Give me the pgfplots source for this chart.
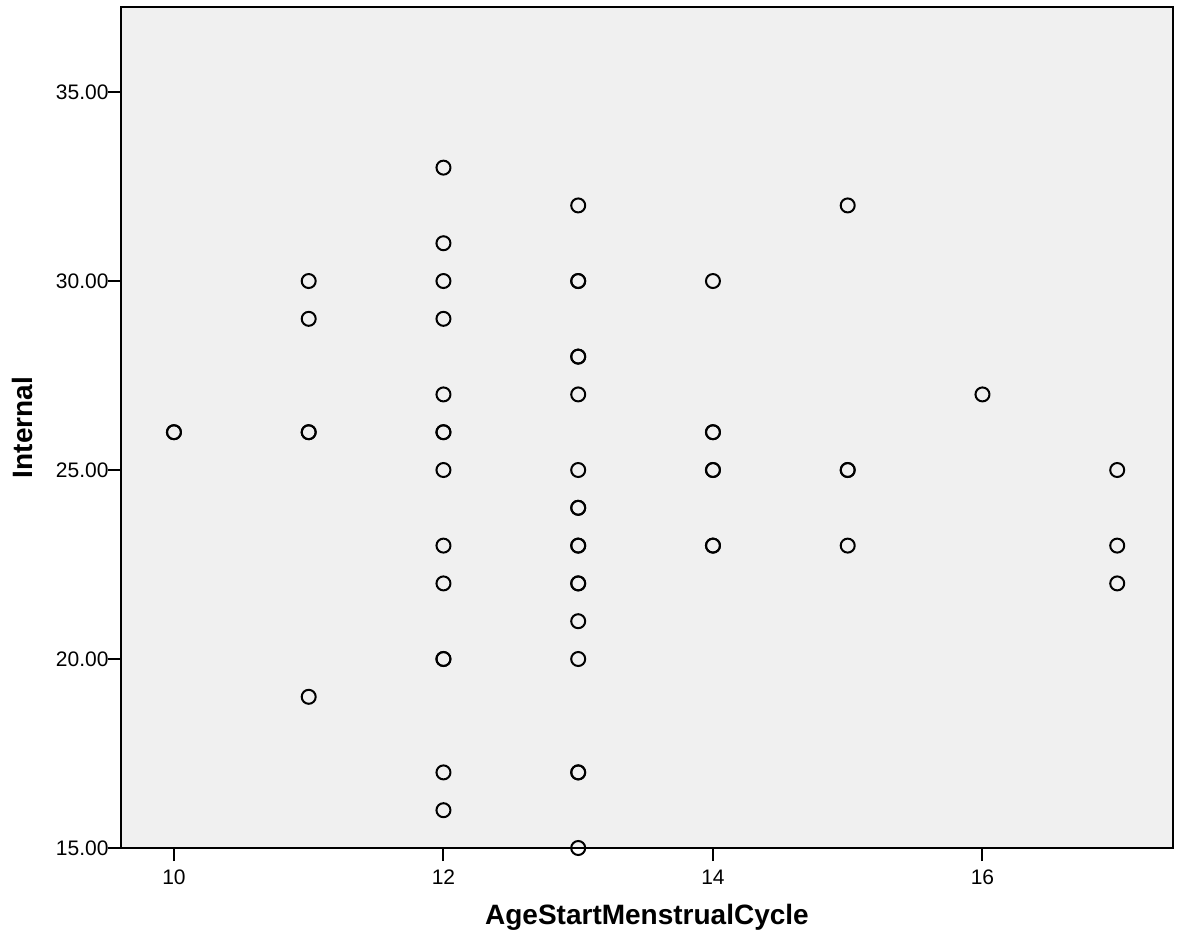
\documentclass[border=0pt]{standalone}
\usepackage{pgfplots}
\pgfplotsset{compat=1.18}
\usepackage{fontspec}
\setmainfont{Liberation Sans}
\definecolor{bg}{HTML}{F0F0F0}
\begin{document}
\begin{tikzpicture}[x=0.5pt,y=0.5pt]
\path[use as bounding box] (-121,-94) rectangle (1062,848);
\begin{axis}[
  at={(0,0)}, anchor=south west,
  scale only axis,
  width=526pt, height=420.5pt,
  xmin=9.607, xmax=17.414,
  ymin=15, ymax=37.25,
  axis background/.style={fill=bg},
  axis line style={black, line width=0.6pt},
  xtick={10,12,14,16},
  ytick={15,20,25,30,35},
  xtick pos=left, ytick pos=left,
  tick align=outside,
  major tick length=6.5pt,
  tick style={black, line width=1pt},
  yticklabel style={/pgf/number format/fixed, /pgf/number format/fixed zerofill, /pgf/number format/precision=2},
  /pgf/number format/assume math mode=true,
  ticklabel style={font=\fontsize{10.5pt}{12pt}\selectfont},
  xticklabel style={yshift=-1pt},
  yticklabel style={xshift=3.8pt},
  xlabel={\textbf{AgeStartMenstrualCycle}},
  ylabel={\textbf{Internal}},
  label style={font=\fontsize{14pt}{16pt}\selectfont},
  xlabel style={at={(axis description cs:0.5,-0.083)}, anchor=center},
  ylabel style={at={(axis description cs:-0.0941,0.5)}, anchor=center},
  clip=false,
]
\addplot[only marks, mark=o, mark size=3.5pt, mark options={line width=1pt, black}] coordinates {
(10,26) (10,26)
(11,30) (11,29) (11,26) (11,26) (11,19)
(12,33) (12,31) (12,30) (12,29) (12,27) (12,26) (12,26) (12,25) (12,23) (12,22) (12,20) (12,20) (12,17) (12,16)
(13,32) (13,30) (13,30) (13,28) (13,28) (13,27) (13,25) (13,24) (13,24) (13,23) (13,23) (13,22) (13,22) (13,21) (13,20) (13,17) (13,17) (13,15)
(14,30) (14,26) (14,26) (14,25) (14,25) (14,23) (14,23)
(15,32) (15,25) (15,25) (15,23)
(16,27)
(17,25) (17,23) (17,22)
};
\draw[black, line width=1pt] (rel axis cs:0,0) -- (rel axis cs:0,1);
\draw[black, line width=1pt] (rel axis cs:0,0) -- (rel axis cs:1,0);
\end{axis}
\end{tikzpicture}
\end{document}
